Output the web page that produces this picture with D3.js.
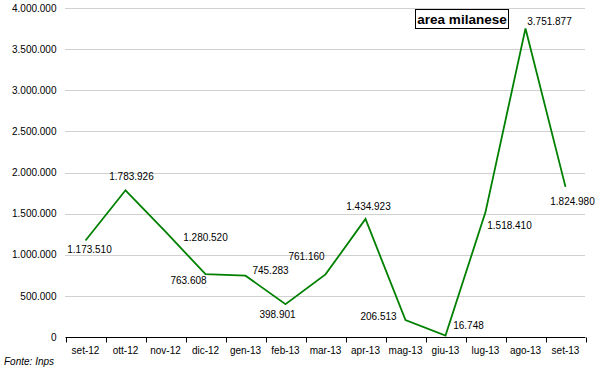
<!DOCTYPE html>
<html>
<head>
<meta charset="utf-8">
<script src="https://cdn.jsdelivr.net/npm/d3@7"></script>
<style>
  body { margin: 0; background: #fff; }
  svg { font-family: "Liberation Sans", Arial, sans-serif; }
  .grid line { stroke: #a0a0a0; stroke-dasharray: 1,1; }
  .axis text { font-size: 10px; fill: #000; }
</style>
</head>
<body>
<div id="chart"></div>
<script>
(function(){
    var width = 600, height = 370;
    var margin = {top: 8, bottom: 33, left: 65.5, right: 14.5};

    // data
    var months = ["set-12", "ott-12", "nov-12", "dic-12", "gen-13", "feb-13", "mar-13",
                  "apr-13", "mag-13", "giu-13", "lug-13", "ago-13", "set-13"];
    var values = [1173510, 1783926, 1280520, 763608, 745283, 398901, 761160,
                  1434923, 206513, 16748, 1518410, 3751877, 1824980];
    var yTicks = [0, 500000, 1000000, 1500000, 2000000, 2500000, 3000000, 3500000, 4000000];
    // where each value label sits relative to its point
    var labelOffset = [[4, 9], [6, -14], [40, 6], [-17, 6], [25, -5], [-8, 10], [-19, -18],
                       [3, -12], [-27, -4], [23, -10], [24, 13], [24, -7], [7, 15]];

    var it = d3.formatLocale({decimal: ",", thousands: ".", grouping: [3], currency: ["€", ""]});
    var fmt = it.format(",d");

    var svg = d3.select("#chart")
        .append("svg")
        .attr("width", width)
        .attr("height", height);

    var x = d3.scaleBand()
        .domain(months)
        .range([margin.left, width - margin.right]);

    var y = d3.scaleLinear()
        .domain([0, 4000000])
        .range([height - margin.bottom, margin.top]);

    // gridlines
    svg.append("g")
        .attr("class", "grid")
        .selectAll("line")
        .data(yTicks.slice(1))
        .enter()
        .append("line")
        .attr("x1", margin.left)
        .attr("x2", width - margin.right)
        .attr("y1", function(d){ return Math.round(y(d)) + 0.5; })
        .attr("y2", function(d){ return Math.round(y(d)) + 0.5; });

    // y axis labels
    var yAxis = d3.axisLeft(y)
        .tickValues(yTicks)
        .tickSize(0)
        .tickPadding(9)
        .tickFormat(fmt);
    svg.append("g")
        .attr("class", "axis")
        .attr("transform", "translate(" + margin.left + ",0)")
        .call(yAxis)
        .call(function(g){ g.select(".domain").remove(); });

    // x axis
    var xAxis = d3.axisBottom(x).tickSize(0).tickPadding(9);
    var gx = svg.append("g")
        .attr("class", "axis")
        .attr("transform", "translate(0," + (Math.round(y(0)) + 0.5) + ")")
        .call(xAxis);
    gx.select(".domain").attr("stroke", "#000").attr("d", "M" + margin.left + ",0H" + (width - margin.right));
    gx.selectAll(".bound")
        .data(months.concat([null]))
        .enter()
        .append("line")
        .attr("class", "bound")
        .attr("stroke", "#000")
        .attr("x1", function(d, i){ return Math.round(margin.left + i * x.bandwidth()) + 0.5; })
        .attr("x2", function(d, i){ return Math.round(margin.left + i * x.bandwidth()) + 0.5; })
        .attr("y1", 0)
        .attr("y2", 5);

    // line
    var line = d3.line()
        .x(function(d, i){ return x(months[i]) + x.bandwidth() / 2; })
        .y(function(d){ return y(d); });

    svg.append("path")
        .datum(values)
        .attr("fill", "none")
        .attr("stroke", "#008000")
        .attr("stroke-width", 1.8)
        .attr("d", line);

    // value labels
    svg.selectAll(".vlabel")
        .data(values)
        .enter()
        .append("text")
        .attr("class", "vlabel")
        .attr("font-size", "10px")
        .attr("text-anchor", "middle")
        .attr("dy", "0.35em")
        .attr("x", function(d, i){ return x(months[i]) + x.bandwidth() / 2 + labelOffset[i][0]; })
        .attr("y", function(d, i){ return y(d) + labelOffset[i][1]; })
        .text(function(d){ return fmt(d); });

    // title box
    var tg = svg.append("g");
    tg.append("rect")
        .attr("x", 415.5).attr("y", 9.5)
        .attr("width", 93).attr("height", 19)
        .attr("fill", "#fff").attr("stroke", "#000");
    tg.append("text")
        .attr("x", 462).attr("y", 24)
        .attr("text-anchor", "middle")
        .attr("font-size", "13.5px")
        .attr("font-weight", "bold")
        .text("area milanese");

    svg.append("text")
        .attr("x", 4).attr("y", 365)
        .attr("font-size", "10px")
        .attr("font-style", "italic")
        .text("Fonte: Inps");
})();
</script>
</body>
</html>
